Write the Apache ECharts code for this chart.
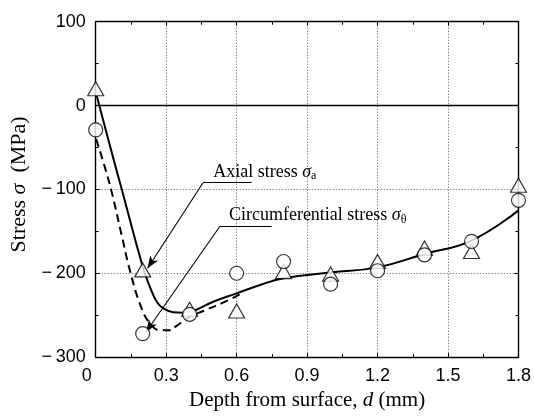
<!DOCTYPE html>
<html>
<head>
<meta charset="utf-8">
<script src="https://cdn.jsdelivr.net/npm/echarts@6/dist/echarts.min.js"></script>
<style>
html,body{margin:0;padding:0;background:#fff;}
#chart{width:534px;height:416px;}
</style>
</head>
<body>
<div id="chart"></div>
<script>
// ---- data ----
const depths = [0, 0.2, 0.4, 0.6, 0.8, 1.0, 1.2, 1.4, 1.6, 1.8];
const axialMeasured = [20, -196, -243, -245, -198, -201, -186, -170, -174, -95];
const circMeasured = [-29, -272, -249, -200, -186, -213, -197, -178, -162, -113];
const axialFitX = [0.004, 0.075, 0.11, 0.2, 0.232, 0.26, 0.288, 0.33, 0.373, 0.416, 0.5, 0.6, 0.7, 0.8, 1.0, 1.2, 1.4, 1.6, 1.8];
const axialFitY = [12, -63, -99, -192, -217, -234, -242, -246.5, -247, -245, -234, -224, -214, -206, -199, -193, -177, -161, -125];
const circFitX = [0.002, 0.032, 0.068, 0.11, 0.146, 0.189, 0.231, 0.274, 0.316, 0.338, 0.4, 0.458, 0.558, 0.62];
const circFitY = [-40, -67, -103, -154, -197, -237, -260, -268, -268, -264, -252, -245, -233, -224];
const xTicks = [0, 0.3, 0.6, 0.9, 1.2, 1.5, 1.8];
const yTicks = [-300, -200, -100, 0, 100];

// annotation anchors (data coordinates)
const axialLabelAt = [0.498, -79];
const axialLeader = [[0.664, -92], [0.457, -92]];
const axialArrowTip = [0.221, -194];
const circLabelAt = [0.565, -131];
const circLeader = [[0.749, -144], [0.529, -144]];
const circArrowTip = [0.214, -270];

const zip = (a, b) => a.map((v, i) => [v, b[i]]);
const SERIF = '"Liberation Serif", "Times New Roman", serif';
const SANS = '"Liberation Sans", Arial, sans-serif';

const richText = {
  t: {fontFamily: SERIF, fontSize: 18, color: '#000'},
  s: {fontFamily: SERIF, fontStyle: 'italic', fontSize: 18, color: '#000'},
  sub: {fontFamily: SERIF, fontSize: 12, color: '#000', padding: [8, 0, 0, 0]}
};

const chart = echarts.init(document.getElementById('chart'), null, {renderer: 'canvas'});

const borderLine = {show: true, onZero: false, lineStyle: {color: '#000', width: 1.4}};
const tickIn = {show: true, inside: true, length: 4, lineStyle: {color: '#000', width: 1}};
const minorIn = {show: true, splitNumber: 2, length: 3, lineStyle: {color: '#000', width: 1}};
const dotted = {show: true, lineStyle: {type: [1, 2], color: '#555', width: 1}};

const option = {
  animation: false,
  backgroundColor: '#fff',
  grid: {left: 95.7, right: 15.5, top: 21.7, bottom: 56, containLabel: false},
  xAxis: [{
    type: 'value', position: 'bottom', min: 0, max: 1.8, interval: 0.3,
    axisLine: borderLine, axisTick: tickIn, minorTick: minorIn, splitLine: dotted,
    axisLabel: {
      fontFamily: SANS, fontSize: 18, color: '#000', margin: 10,
      formatter: v => Math.abs(v) < 1e-9 ? '{z|0}' : v.toFixed(1),
      rich: {z: {fontFamily: SANS, fontSize: 18, color: '#000', padding: [0, 18, 0, 0]}}
    },
    name: '{t|Depth from surface, }{s|d}{t| (mm)}',
    nameLocation: 'middle', nameGap: 29,
    nameTextStyle: {
      fontFamily: SERIF, fontSize: 21, color: '#000',
      rich: {
        t: {fontFamily: SERIF, fontSize: 21, color: '#000'},
        s: {fontFamily: SERIF, fontSize: 21, fontStyle: 'italic', color: '#000'}
      }
    }
  }, {
    type: 'value', position: 'top', min: 0, max: 1.8, interval: 0.3,
    axisLine: borderLine, axisTick: tickIn, minorTick: minorIn,
    axisLabel: {show: false}, splitLine: {show: false}
  }],
  yAxis: [{
    type: 'value', position: 'left', min: -300, max: 100, interval: 100,
    axisLine: borderLine, axisTick: tickIn, minorTick: minorIn, splitLine: dotted,
    axisLabel: {
      fontFamily: SANS, fontSize: 18, color: '#000', margin: 10,
      formatter: v => v < 0 ? '\u2212\u2009' + Math.abs(v) : String(v)
    },
    name: '{t|Stress }{s|σ}{t|  (MPa)}',
    nameLocation: 'middle', nameGap: 62, nameRotate: 90,
    nameTextStyle: {
      fontFamily: SERIF, fontSize: 22, color: '#000', padding: [0, 0, 0, 10],
      rich: {
        t: {fontFamily: SERIF, fontSize: 22, color: '#000'},
        s: {fontFamily: SERIF, fontSize: 22, fontStyle: 'italic', color: '#000'}
      }
    }
  }, {
    type: 'value', position: 'right', min: -300, max: 100, interval: 100,
    axisLine: borderLine, axisTick: tickIn, minorTick: minorIn,
    axisLabel: {show: false}, splitLine: {show: false}
  }],
  series: [
    {
      name: 'zero', type: 'line', data: [[xTicks[0], 0], [xTicks[xTicks.length - 1], 0]],
      symbol: 'none', lineStyle: {color: '#000', width: 1.6}, z: 3, silent: true
    },
    {
      name: 'circ fit', type: 'line', data: zip(circFitX, circFitY), smooth: 0.45,
      symbol: 'none', lineStyle: {color: '#000', width: 2, type: [8, 5]}, z: 4
    },
    {
      name: 'axial fit', type: 'line', data: zip(axialFitX, axialFitY), smooth: 0.45,
      symbol: 'none', lineStyle: {color: '#000', width: 2}, z: 5,
      markLine: {
        silent: true, animation: false, symbol: ['none', 'none'],
        lineStyle: {color: '#000', width: 1.1, type: 'solid'},
        label: {show: false},
        data: [
          [{coord: axialLeader[0]}, {coord: axialLeader[1]}],
          [{coord: axialLeader[1]}, {coord: axialArrowTip, symbol: 'arrow', symbolSize: [7, 12]}],
          [{coord: circLeader[0]}, {coord: circLeader[1]}],
          [{coord: circLeader[1]}, {coord: circArrowTip, symbol: 'arrow', symbolSize: [7, 12]}]
        ]
      },
      markPoint: {
        silent: true, animation: false, symbol: 'circle', symbolSize: 1,
        itemStyle: {color: 'rgba(0,0,0,0)'},
        label: {show: true, position: 'right', distance: 0, rich: richText},
        data: [
          {coord: axialLabelAt, label: {formatter: '{t|Axial stress }{s|σ}{sub|a}'}},
          {coord: circLabelAt, label: {formatter: '{t|Circumferential stress }{s|σ}{sub|θ}'}}
        ]
      }
    },
    {
      name: 'axial', type: 'scatter', data: zip(depths, axialMeasured),
      symbol: 'triangle', symbolSize: [16, 14],
      itemStyle: {color: '#fff', borderColor: '#000', borderWidth: 1.2}, z: 6
    },
    {
      name: 'circumferential', type: 'scatter', data: zip(depths, circMeasured),
      symbol: 'circle', symbolSize: 14,
      itemStyle: {color: '#fff', borderColor: '#000', borderWidth: 1.2}, z: 7
    }
  ]
};
chart.setOption(option);
</script>
</body>
</html>
